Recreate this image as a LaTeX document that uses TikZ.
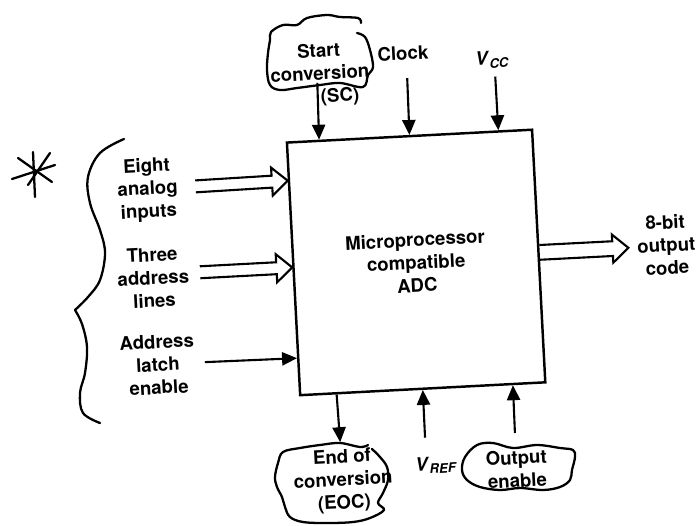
\documentclass[tikz,border=0pt]{standalone}
\usepackage{fontspec}
\setsansfont{TeX Gyre Heros}
\usetikzlibrary{calc}
\usetikzlibrary{arrows.meta}
% hollow bus arrow between two named points
\newcommand{\busarrow}[3]{%
	\coordinate (bh) at ($(#2)!9pt!(#1)$);
	\draw[busline] ($(#1)!#3!90:(#2)$) -- ($(bh)!#3!90:(#2)$) -- ($(bh)!8pt!90:(#2)$) -- (#2)
	-- ($(bh)!8pt!-90:(#2)$) -- ($(bh)!#3!-90:(#2)$) -- ($(#1)!#3!-90:(#2)$);}

\begin{document}
\begin{tikzpicture}[x=0.02cm,y=-0.02cm]
		\tikzset{lbl/.style={font=\fontsize{10.6}{13}\selectfont\sffamily\bfseries, align=center, inner sep=0pt},
			adcbox/.style={draw, line width=1.4pt, minimum width=4.91cm, minimum height=5.06cm, inner sep=0pt,
				font=\fontsize{10.6}{13}\selectfont\sffamily\bfseries, align=center},
			sig/.style={line width=1.2pt, -{Triangle[width=7.5pt,length=8.5pt]}},
			busline/.style={line width=1.2pt, line join=miter},
			hand/.style={line width=1.3pt, line cap=round, line join=round}}
		\useasboundingbox (0,0) rectangle (700,525);
		
		% hand drawn marks
		\draw[hand] (33,152) -- (35,197);
		\draw[hand] (12,179) -- (55,165);
		\draw[hand] (18,158) -- (52,182);
		\draw[hand] (50,153) -- (28,185);
		
		\draw[hand] plot[smooth, tension=0.6] coordinates {(124,139) (100,153) (88,177) (90,203) (100,230) (105,253) (100,280) (88,297) (75,310)};
		\draw[hand] plot[smooth, tension=0.6] coordinates {(75,310) (82,324) (87,347) (85,373) (80,393) (83,413) (100,423)};
		
		\draw[hand] plot[smooth, tension=0.6] coordinates {(357,33) (365,37) (370,50) (373,67) (368,75) (363,87) (340,83) (320,85) (297,88) (280,90) (270,85) (267,70) (268,53) (270,40) (271,32) (283,25) (297,25) (307,18) (327,15) (340,17) (358,18) (361,23)};
		\draw[hand] plot[smooth, tension=0.6] coordinates {(372,449) (380,457) (387,467) (388,480) (383,493) (378,503) (384,510) (370,518) (353,522) (327,523) (303,522) (290,517) (285,507) (282,497) (277,487) (275,477) (278,463) (283,452) (300,448) (320,445) (340,443) (360,447) (368,445)};
		\draw[hand] plot[smooth cycle, tension=0.6] coordinates {(573,450) (575,457) (572,470) (570,480) (560,487) (543,490) (520,488) (500,490) (480,487) (467,480) (462,470) (465,457) (477,445) (493,443) (513,448) (537,445) (560,448)};
		
		\begin{scope}[rotate around={3:(415,265)}, transform shape]
		\node[adcbox] (adc) at (416.25,262.5) {Microprocessor\\compatible\\ADC};
		
		\node[lbl] (sclbl) at (330,57) {Start\\conversion};
		\node[lbl] (sctag) at (349,93) {(SC)};
		\node[lbl] (clklbl) at (414,53) {Clock};
		\node[lbl] (vcclbl) at (503,64) {\textit{V}\textsubscript{\textit{CC}}};
		\node[lbl] (eightlbl) at (152,176) {Eight\\analog\\inputs};
		\node[lbl] (addrlbl) at (153,264) {Three\\address\\lines};
		\node[lbl] (alelbl) at (153,351) {Address\\latch\\enable};
		\node[lbl] (outlbl) at (667,258) {8-bit\\output\\code};
		\node[lbl] (eoclbl) at (332,477) {End of\\conversion\\(EOC)};
		\node[lbl] (vreflbl) at (426,466) {\textit{V}\textsubscript{\textit{REF}}};
		\node[lbl] (oelbl) at (506,474) {Output\\enable};
		
		\coordinate (scin) at (327,78);
		\coordinate (clkin) at (417,78);
		\coordinate (vccin) at (505,81);
		\coordinate (eightin) at (200,175);
		\coordinate (addrin) at (200,261);
		\coordinate (alein) at (200,351);
		\coordinate (outend) at (629,259);
		\coordinate (eocend) at (331,438);
		\coordinate (vrefin) at (416,438);
		\coordinate (oein) at (506,438);
		
		\coordinate (scport) at ($(adc.north west)!0.135!(adc.north east)$);
		\coordinate (vccport) at ($(adc.north west)!0.859!(adc.north east)$);
		\coordinate (eocport) at ($(adc.south west)!0.152!(adc.south east)$);
		\coordinate (oeport) at ($(adc.south west)!0.864!(adc.south east)$);
		\coordinate (eightport) at ($(adc.north west)!0.154!(adc.south west)$);
		\coordinate (addrport) at ($(adc.north west)!0.494!(adc.south west)$);
		\coordinate (aleport) at ($(adc.north west)!0.85!(adc.south west)$);
		\coordinate (outport) at ($(adc.north east)!0.486!(adc.south east)$);
		
		\draw[sig] (scin) -- (scport);
		\draw[sig] (clkin) -- (adc.north);
		\draw[sig] (vccin) -- (vccport);
		\draw[sig] (alein) -- (aleport);
		\draw[sig] (eocport) -- (eocend);
		\draw[sig] (vrefin) -- (adc.south);
		\draw[sig] (oein) -- (oeport);
		\busarrow{eightin}{eightport}{3.4pt}
		\busarrow{addrin}{addrport}{3.4pt}
		\busarrow{outport}{outend}{4.2pt}
		\end{scope}
		
\end{tikzpicture}
\end{document}
